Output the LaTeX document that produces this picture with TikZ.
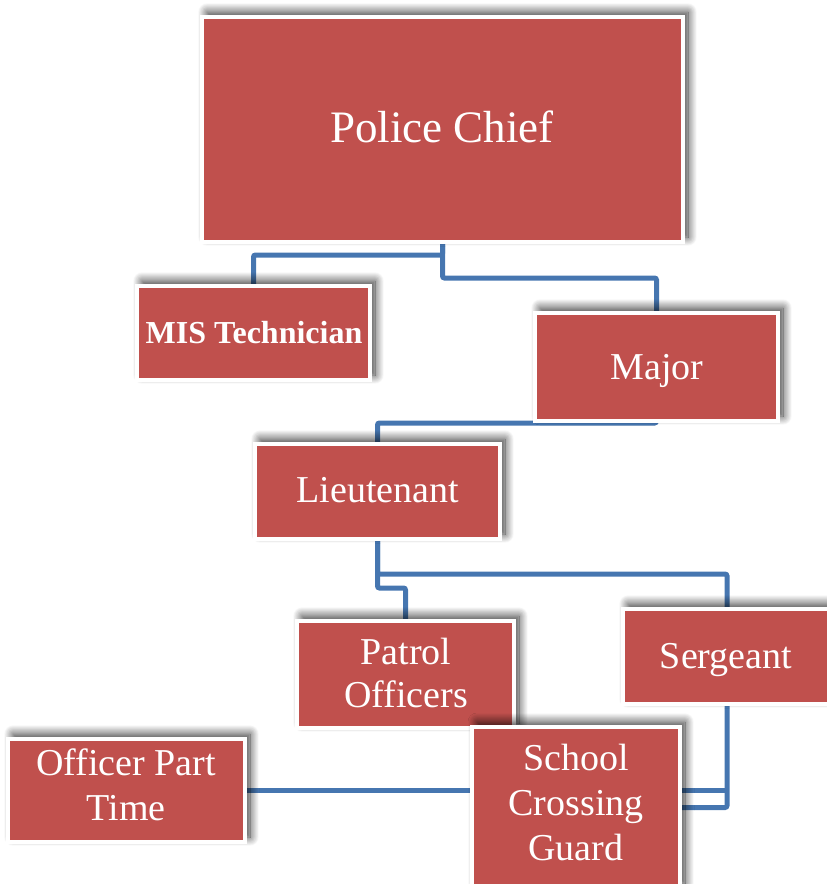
\documentclass[tikz,border=0pt]{standalone}
\usepackage{fontspec}
\setmainfont{Liberation Serif}
\usetikzlibrary{shadows.blur}
\definecolor{boxred}{RGB}{192,80,77}
\definecolor{linkblue}{RGB}{70,118,176}
\pgfdeclarelayer{background}
\pgfsetlayers{background,main}
\tikzset{
  orgbox/.style={draw=white, line width=4pt, fill=boxred, inner sep=0pt, outer sep=0pt,
    blur shadow={shadow xshift=5pt, shadow yshift=5pt, shadow blur steps=16,
                 shadow blur radius=9pt, shadow opacity=80}},
  orglabel/.style={text=white, align=center, anchor=base, inner sep=0pt,
    font=\fontsize{38}{45}\selectfont},
  conn/.style={draw=linkblue, line width=5pt, rounded corners=2pt}
}
% #1 label options, #2 name, #3-#6 left/top/right/bottom of the red face,
% #7 text centre x, #8 last baseline y, #9 text
\newcommand\orgunit[9][]{%
  \pgfmathsetmacro\bw{#5-#3+4}%
  \pgfmathsetmacro\bh{#6-#4+4}%
  \node[orgbox, minimum width=\bw pt, minimum height=\bh pt] (#2) at ({(#3+#5)/2},{(#4+#6)/2}) {};
  \node[orglabel, #1] (#2-text) at (#7,#8) {#9};
}
\begin{document}
\begin{tikzpicture}[x=1pt, y=-1pt]
\useasboundingbox (0,0) rectangle (827,884);
\clip (0,0) rectangle (827,884);

\orgunit[font=\fontsize{45}{50}\selectfont]{chief}{204}{19}{681}{240}{442}{142}{Police Chief}
\orgunit[font=\bfseries\fontsize{32}{38}\selectfont]{mis}{139}{288}{368}{378}{254}{343}{MIS Technician}
\orgunit{major}{537}{315}{776}{419}{657}{379}{Major}
\orgunit{lieut}{257}{446}{498}{537}{378}{502}{Lieutenant}
\orgunit[font=\fontsize{38}{43}\selectfont]{patrol}{299}{623}{512}{726}{406}{707}{Patrol\\Officers}
\orgunit{serg}{625}{611}{829}{702}{726}{668}{Sergeant}
\orgunit{offpt}{10}{741}{243}{840}{126}{820}{Officer Part\\Time}
\orgunit[font=\fontsize{38}{45}\selectfont]{school}{474}{729}{678}{886}{576}{860}{School\\Crossing\\Guard}

\begin{pgfonlayer}{background}
  \draw[conn] (chief.south) -- ++(0,13) -| (mis.north);
  \draw[conn] (chief.south) -- ++(0,36) -| (major.north);
  \draw[conn] (major.south) -- ++(0,2) -| (lieut.north);
  \draw[conn] (lieut.south) -- ++(0,35) -| (serg.north);
  \draw[conn] (lieut.south) -- ++(0,49) -| (patrol.north);
  \draw[conn] (serg.south) |- (school.east);
  \draw[conn] (offpt.east) -- (serg.south |- offpt.east);
\end{pgfonlayer}
\end{tikzpicture}
\end{document}
